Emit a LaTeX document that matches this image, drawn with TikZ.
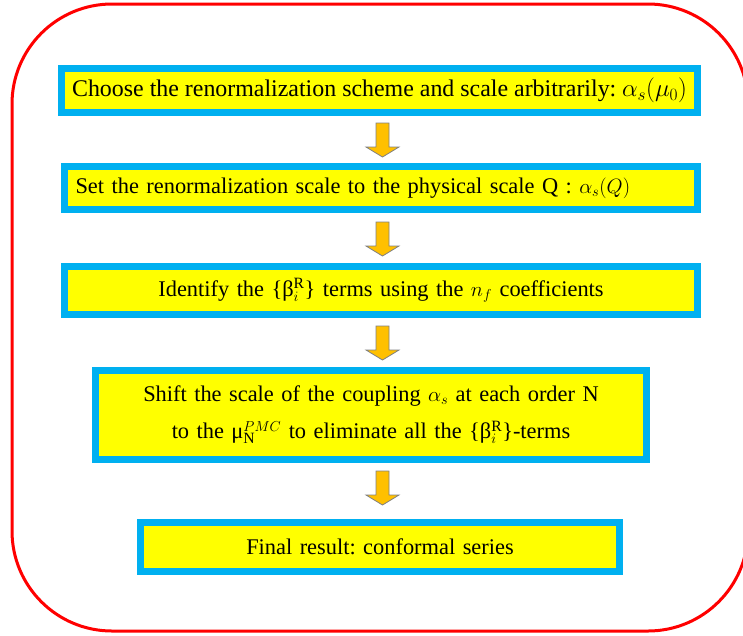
\documentclass[tikz,border=0pt]{standalone}
\usepackage{fontspec}
\setmainfont{Liberation Serif}
\frenchspacing
\definecolor{boxblue}{RGB}{0,176,240}
\definecolor{boxyellow}{RGB}{255,255,0}
\definecolor{arroworange}{RGB}{255,192,0}
\definecolor{arrowgray}{RGB}{128,128,128}
\tikzset{
  stepbox/.style={draw=boxblue, fill=boxyellow, line width=7pt, inner xsep=11pt, inner ysep=0pt,
     font=\fontsize{22.4}{37}\selectfont, anchor=center},
  outerframe/.style={draw=red, line width=3pt, rounded corners=100pt},
  blockarrow/.style={fill=arroworange, draw=arrowgray, line width=0.8pt, line join=miter},
  pics/downarrow/.style={code={
     \path[blockarrow] (-6.5,0) -- (6.5,0) -- (6.5,24) -- (16.5,24) -- (0,34) -- (-16.5,24) -- (-6.5,24) -- cycle;
  }}
}
\begin{document}
\begin{tikzpicture}[x=1pt,y=-1pt]
\useasboundingbox (0,0) rectangle (743,635);
\clip (0,0) rectangle (743,635);
\draw[outerframe] (12,4) rectangle (748,631);

\node[stepbox, font=\fontsize{23.9}{37}\selectfont, minimum width=630pt, minimum height=44pt] (b1) at (379.5,90.5)
  {Choose the renormalization scheme and scale arbitrarily: $\alpha_s(\mu_0)$};
\node[stepbox, text width=611pt, align=left, minimum height=43pt] (b2) at (381,188)
  {Set the renormalization scale to the physical scale Q : $\alpha_s(Q)$};
\node[stepbox, text width=611pt, align=center, minimum height=48pt] (b3) at (381,290.5)
  {Identify the \{β$_i^{\mathrm{R}}$\} terms using the $n_f$ coefficients};
\node[stepbox, text width=529pt, align=center, minimum height=89pt] (b4) at (371,415)
  {Shift the scale of the coupling $\alpha_s$ at each order N\\
   to the μ$_{\mathrm{N}}^{PMC}$ to eliminate all the \{β$_i^{\mathrm{R}}$\}-terms};
\node[stepbox, text width=457pt, align=center, minimum height=49pt] (b5) at (380,547)
  {Final result: conformal series};

\pic at (382.5,123) {downarrow};
\pic at (382.5,222) {downarrow};
\pic at (382.5,326) {downarrow};
\pic at (382.5,471) {downarrow};
\end{tikzpicture}
\end{document}
